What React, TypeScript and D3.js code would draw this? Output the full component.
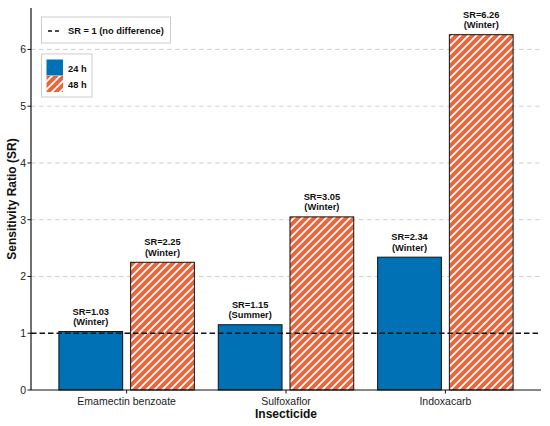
import React from "react";
import * as d3 from "d3";

const categories = ["Emamectin benzoate", "Sulfoxaflor", "Indoxacarb"];
const sr24 = [1.03, 1.15, 2.34];
const sr48 = [2.25, 3.05, 6.26];
const season24 = ["Winter", "Summer", "Winter"];
const season48 = ["Winter", "Winter", "Winter"];
const yTicks = [0, 1, 2, 3, 4, 5, 6];
const gridTicks = [2, 3, 4, 5, 6];
const referenceSR = 1;

const W = 550;
const H = 426;
const BLUE = "#0071B4";
const ORANGE = "#E8673D";
const FONT = "'Liberation Sans', Arial, Helvetica, sans-serif";

export default function App() {
  const left = 31;
  const right = 541;
  const top = 8;
  const bottom = 390;

  const x = d3.scaleLinear().domain([-0.6, categories.length - 1 + 0.6]).range([left, right]);
  const y = d3.scaleLinear().domain([0, 6.73]).range([bottom, top]);
  const barW = x(0.4) - x(0);
  const off = 0.225;

  const bars: { xc: number; v: number; season: string; kind: string }[] = [];
  categories.forEach((_, i) => {
    bars.push({ xc: x(i - off), v: sr24[i], season: season24[i], kind: "24" });
    bars.push({ xc: x(i + off), v: sr48[i], season: season48[i], kind: "48" });
  });

  return (
    <div style={{ position: "absolute", left: 0, top: 0 }}>
      <svg width={W} height={H} viewBox={`0 0 ${W} ${H}`} style={{ display: "block", background: "#fff" }} fontFamily={FONT}>
        <defs>
          <pattern id="hatch" patternUnits="userSpaceOnUse" width={8} height={8}>
            <rect width={8} height={8} fill={ORANGE} />
            <path d="M-2,2 L2,-2 M0,8 L8,0 M6,10 L10,6" stroke="#fff" strokeWidth={1.7} />
          </pattern>
        </defs>

        {/* grid */}
        {gridTicks.map((t) => (
          <line key={t} x1={left} x2={right} y1={y(t)} y2={y(t)} stroke="#c8c8c8" strokeWidth={0.9} strokeDasharray="4.5,3.5" />
        ))}

        {/* bars */}
        {bars.map((b, i) => (
          <g key={i}>
            <rect
              x={b.xc - barW / 2}
              y={y(b.v)}
              width={barW}
              height={y(0) - y(b.v)}
              fill={b.kind === "24" ? BLUE : "url(#hatch)"}
              stroke="#111"
              strokeWidth={1}
            />
            <text x={b.xc} y={y(b.v) - 17} textAnchor="middle" fontSize={9.3} fontWeight="bold" fill="#111">
              {`SR=${b.v.toFixed(2)}`}
            </text>
            <text x={b.xc} y={y(b.v) - 6.5} textAnchor="middle" fontSize={9.3} fontWeight="bold" fill="#111">
              {`(${b.season})`}
            </text>
          </g>
        ))}

        {/* reference line */}
        <line x1={left} x2={right} y1={y(referenceSR)} y2={y(referenceSR)} stroke="#111" strokeWidth={1.4} strokeDasharray="5.5,3" />

        {/* axes */}
        <line x1={left} x2={left} y1={top} y2={bottom} stroke="#111" strokeWidth={1.2} />
        <line x1={left} x2={right} y1={bottom} y2={bottom} stroke="#111" strokeWidth={1.2} />
        {yTicks.map((t) => (
          <g key={t}>
            <line x1={left - 3.5} x2={left} y1={y(t)} y2={y(t)} stroke="#111" strokeWidth={1} />
            <text x={left - 5} y={y(t) + 3.8} textAnchor="end" fontSize={10.5} fill="#222">
              {t}
            </text>
          </g>
        ))}
        {categories.map((c, i) => (
          <g key={c}>
            <line x1={x(i)} x2={x(i)} y1={bottom} y2={bottom + 3.5} stroke="#111" strokeWidth={1} />
            <text x={x(i)} y={bottom + 14.5} textAnchor="middle" fontSize={10.5} fill="#222">
              {c}
            </text>
          </g>
        ))}

        <text x={x(1)} y={418} textAnchor="middle" fontSize={12} fontWeight="bold" fill="#111">
          Insecticide
        </text>
        <text transform={`translate(16,${(top + bottom) / 2}) rotate(-90)`} textAnchor="middle" fontSize={12} fontWeight="bold" fill="#111">
          Sensitivity Ratio (SR)
        </text>

        {/* legend 1 */}
        <rect x={41.5} y={17} width={129} height={26} fill="#fff" stroke="#ccc" strokeWidth={1} />
        <line x1={48} x2={62} y1={31} y2={31} stroke="#111" strokeWidth={1.4} strokeDasharray="4,3" />
        <text x={68} y={34.3} fontSize={9.3} fontWeight="bold" fill="#111">
          SR = 1 (no difference)
        </text>

        {/* legend 2 */}
        <rect x={41.5} y={54} width={50.5} height={43} fill="#fff" stroke="#ccc" strokeWidth={1} />
        <rect x={46.5} y={59.5} width={16.5} height={16} fill={BLUE} />
        <rect x={46.5} y={76} width={16.5} height={16} fill="url(#hatch)" />
        <text x={68} y={71.5} fontSize={9.3} fontWeight="bold" fill="#111">
          24 h
        </text>
        <text x={68} y={88} fontSize={9.3} fontWeight="bold" fill="#111">
          48 h
        </text>
      </svg>
    </div>
  );
}
